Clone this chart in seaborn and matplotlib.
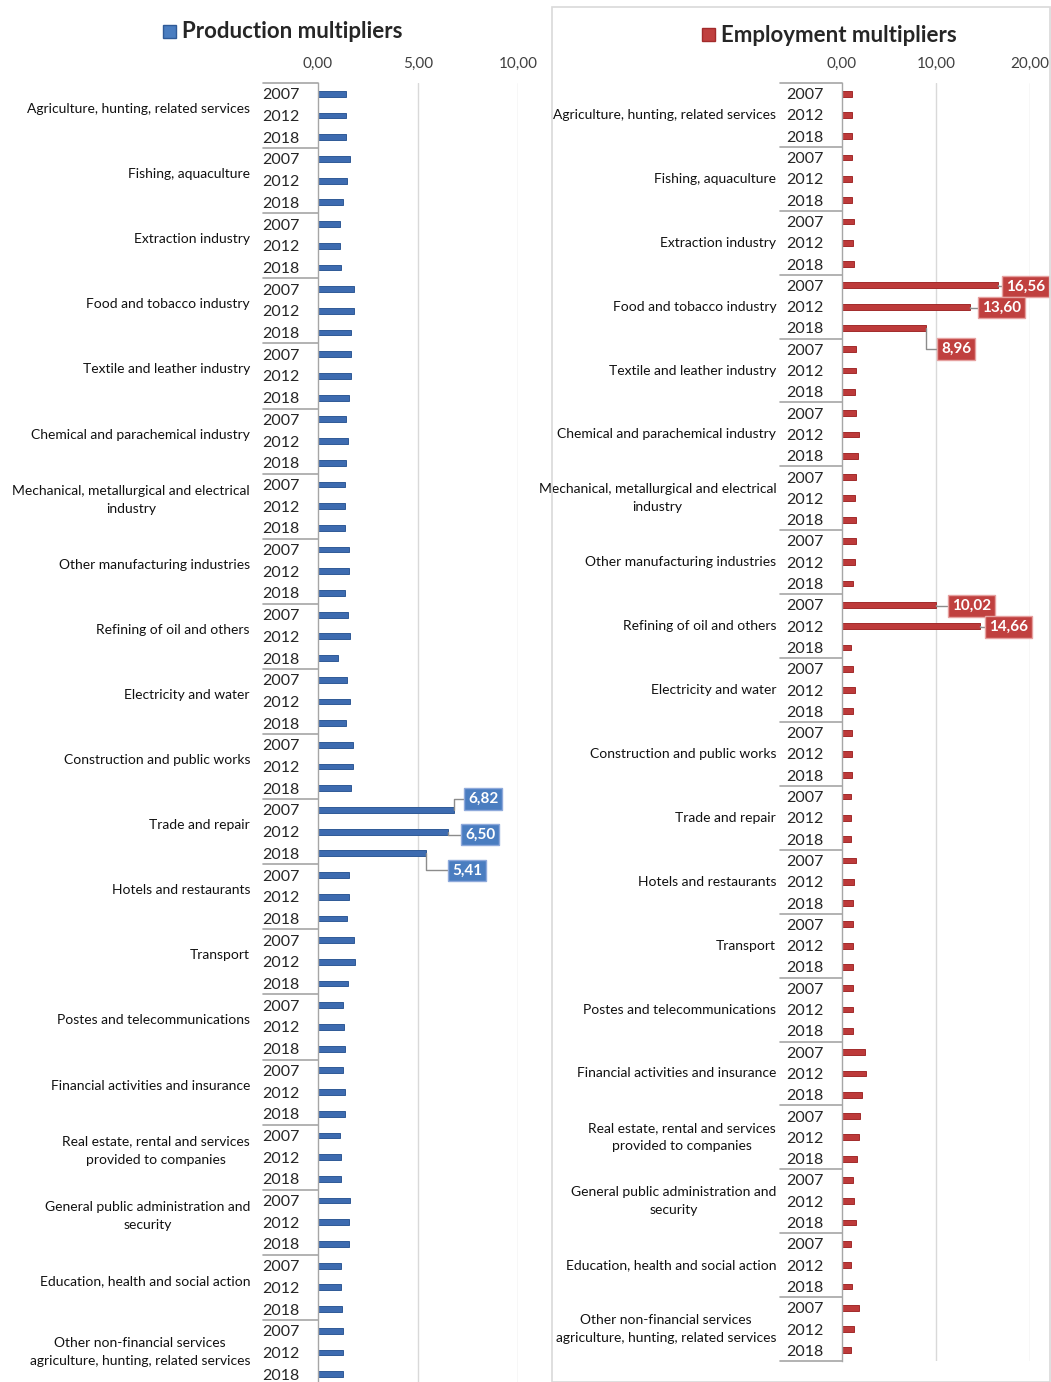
import numpy as np
import pandas as pd
import seaborn as sns
import matplotlib.pyplot as plt
import matplotlib.transforms as mtransforms
from matplotlib.patches import Rectangle

sectors = [
    'Agriculture, hunting, related services',
    'Fishing, aquaculture',
    'Extraction industry',
    'Food and tobacco industry',
    'Textile and leather industry',
    'Chemical and parachemical industry',
    'Mechanical, metallurgical and electrical\nindustry',
    'Other manufacturing industries',
    'Refining of oil and others',
    'Electricity and water',
    'Construction and public works',
    'Trade and repair',
    'Hotels and restaurants',
    'Transport',
    'Postes and telecommunications',
    'Financial activities and insurance',
    'Real estate, rental and services\nprovided to companies',
    'General public administration and\nsecurity',
    'Education, health and social action',
    'Other non-financial services\nagriculture, hunting, related services',
]
years = ['2007', '2012', '2018']

prod_2007 = [1.40, 1.60, 1.12, 1.80, 1.67, 1.40, 1.35, 1.53, 1.48, 1.45,
             1.75, 6.82, 1.53, 1.80, 1.25, 1.25, 1.10, 1.62, 1.13, 1.25]
prod_2012 = [1.40, 1.45, 1.12, 1.80, 1.67, 1.52, 1.35, 1.53, 1.58, 1.62,
             1.75, 6.50, 1.53, 1.85, 1.30, 1.35, 1.13, 1.57, 1.13, 1.25]
prod_2018 = [1.40, 1.25, 1.17, 1.67, 1.57, 1.40, 1.35, 1.35, 1.00, 1.40,
             1.67, 5.41, 1.45, 1.48, 1.35, 1.35, 1.13, 1.57, 1.18, 1.25]

emp_2007 = [1.03, 1.03, 1.31, 16.56, 1.49, 1.49, 1.49, 1.49, 10.02, 1.20,
            1.03, 0.96, 1.49, 1.20, 1.20, 2.41, 1.95, 1.20, 0.96, 1.81]
emp_2012 = [1.03, 1.03, 1.20, 13.60, 1.49, 1.77, 1.42, 1.42, 14.66, 1.42,
            1.03, 0.96, 1.31, 1.20, 1.20, 2.52, 1.77, 1.31, 0.96, 1.31]
emp_2018 = [1.03, 1.03, 1.31, 8.96, 1.42, 1.67, 1.49, 1.20, 0.96, 1.20,
            1.03, 0.96, 1.13, 1.13, 1.13, 2.13, 1.56, 1.49, 1.03, 0.96]


sns.set_style('white')
plt.rcParams['font.family'] = ['Lato', 'DejaVu Sans']

W, H = 1051, 1382
fig = plt.figure(figsize=(W / 100, H / 100), dpi=100)


def rect(x0, y0, x1, y1):
    # pixel box (top-left origin) -> figure fraction
    return [x0 / W, 1 - y1 / H, (x1 - x0) / W, (y1 - y0) / H]


def long_frame(v07, v12, v18):
    rows, vals = [], []
    for i, s in enumerate(sectors):
        for y, v in zip(years, (v07[i], v12[i], v18[i])):
            rows.append(s + '|' + y)
            vals.append(v)
    return pd.DataFrame({'row': rows, 'value': vals})


def panel(ax, df, color, edge, xmax, ticks, ybottom, col_w, lab_x, lab_shift,
          label_color, label_edge, label_offsets):
    sns.barplot(data=df, x='value', y='row', orient='h', color=color,
                saturation=1, width=0.27, edgecolor=edge, linewidth=0.7, ax=ax)
    ax.set_xlim(0, xmax)
    ax.set_ylim(ybottom, -0.5)
    ax.xaxis.tick_top()
    ax.set_xticks(ticks)
    ax.set_xticklabels([f'{t:.2f}'.replace('.', ',') for t in ticks],
                       fontsize=11, color='#404040')
    ax.set_yticks(range(len(df)))
    ax.set_yticklabels(years * len(sectors), fontsize=11.5, color='#262626')
    ax.tick_params(axis='x', length=0, pad=9)
    ax.tick_params(axis='y', length=0, pad=13)
    ax.set_xlabel('')
    ax.set_ylabel('')
    for sp in ('top', 'right', 'bottom'):
        ax.spines[sp].set_visible(False)
    ax.spines['left'].set_color('#A6A6A6')
    ax.spines['left'].set_linewidth(1)
    for t in ticks[1:]:
        ax.axvline(t, color='#D9D9D9', lw=1, zorder=0)

    tr = mtransforms.blended_transform_factory(ax.transAxes, ax.transData)
    for g in range(len(sectors) + 1):
        yb = 3 * g - 0.5
        ax.plot([col_w, 0], [yb, yb], color='#A6A6A6', lw=1.2,
                transform=tr, clip_on=False)
    for i, s in enumerate(sectors):
        ax.text(lab_x, 3 * i + 1 - lab_shift[i], s, transform=tr, ha='right',
                va='center', multialignment='center', fontsize=10,
                color='#111111', linespacing=1.6)

    # data labels for the large multipliers
    big = [k for k, v in enumerate(df['value']) if v > 5]
    for (dx, dy), k in zip(label_offsets, big):
        v = df['value'][k]
        ax.annotate(f'{v:.2f}'.replace('.', ','), xy=(v, k),
                    xytext=(dx, dy), textcoords='offset pixels',
                    ha='center', va='center', color='white',
                    fontsize=11, fontweight='bold',
                    bbox=dict(boxstyle='square,pad=0.25', fc=label_color,
                              ec=label_edge, lw=1),
                    arrowprops=dict(arrowstyle='-', color='#8C8C8C', lw=1,
                                    shrinkA=0, shrinkB=0,
                                    connectionstyle='angle,angleA=0,angleB=90,rad=0'))


# production panel
ax1 = fig.add_axes(rect(318, 83, 518, 1382))
panel(ax1, long_frame(prod_2007, prod_2012, prod_2018), '#3D6BB0', '#2F5A97',
      10, [0, 5, 10], -0.5 + 1299 / 21.7, -0.275, -0.34,
      [0.3] * 19 + [0.0], '#4A7DC0', '#8EA9DB',
      [(29, 11), (32, -3), (41, -17)])

# employment panel
ax2 = fig.add_axes(rect(842, 83, 1030, 1361))
panel(ax2, long_frame(emp_2007, emp_2012, emp_2018), '#BD3A3A', '#A22B2B',
      20, [0, 10, 20], 59.5, -0.33, -0.35,
      [0.0] * 20, '#C0403F', '#E6A1A0',
      [(28, -1), (32, -1), (30, -21), (35, -1), (29, -1)])

# frame around the employment chart
fig.add_artist(Rectangle((552 / W, 0), (W - 553) / W, (H - 7) / H,
                         transform=fig.transFigure, fill=False,
                         ec='#D9D9D9', lw=1.2))

# legend-style titles
fig.add_artist(Rectangle((163 / W, 1 - 38 / H), 13 / W, 13 / H,
                         transform=fig.transFigure, fc='#4A7DC0', ec='#2F5A97'))
fig.text(182 / W, 1 - 32 / H, 'Production multipliers', ha='left', va='center',
         fontsize=16, fontweight='bold', color='#262626')
fig.add_artist(Rectangle((702 / W, 1 - 41 / H), 13 / W, 13 / H,
                         transform=fig.transFigure, fc='#C0403F', ec='#A22B2B'))
fig.text(721 / W, 1 - 35 / H, 'Employment multipliers', ha='left', va='center',
         fontsize=16, fontweight='bold', color='#262626')

fig.savefig('out.png', dpi=100)
